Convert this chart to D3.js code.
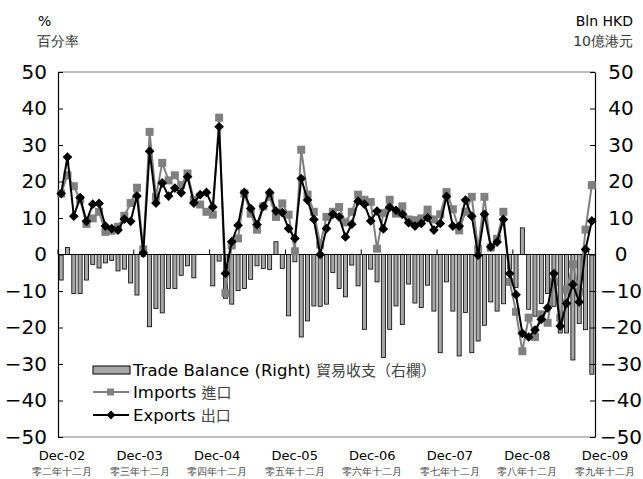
<!DOCTYPE html>
<html><head><meta charset="utf-8">
<script src="https://cdn.jsdelivr.net/npm/d3@7/dist/d3.min.js"></script>
<style>
body{margin:0;background:#fff;}
text{font-family:"DejaVu Sans",Verdana,sans-serif;}
</style></head>
<body><svg id="c" width="643" height="479"></svg>
<script>
// ---- data ----
const startMonth = new Date(2002, 11, 1);
const months = d3.timeMonth.range(startMonth, new Date(2010, 0, 1)); // Dec-02 .. Dec-09 (85)
const yearLabels = ["Dec-02","Dec-03","Dec-04","Dec-05","Dec-06","Dec-07","Dec-08","Dec-09"];
const yearLabelsZh = ["零二年十二月","零三年十二月","零四年十二月","零五年十二月","零六年十二月","零七年十二月","零八年十二月","零九年十二月"];
const yTicks = [50,40,30,20,10,0,-10,-20,-30,-40,-50];

const imports = [16.7,21.7,18.7,15.0,8.4,9.9,11.7,6.2,6.5,7.6,10.6,14.1,
  18.3,1.4,33.6,15.8,25.1,20.3,21.7,19.0,22.2,15.0,13.7,11.7,
  10.9,37.5,-10.5,2.5,4.4,16.7,11.2,6.8,13.2,15.8,10.3,14.0,
  10.9,0.9,28.7,16.4,11.7,2.7,10.3,11.7,13.0,8.8,11.7,16.4,
  15.0,14.4,1.6,11.4,15.0,11.2,13.2,9.6,9.4,9.9,12.3,9.6,
  11.0,17.1,12.4,6.6,11.7,15.8,1.5,15.8,1.9,4.3,11.7,-7.5,
  -15.7,-26.5,-17.3,-22.6,-16.4,-18.7,-7.5,-17.3,-9.6,-2.7,-10.2,6.8,
  19.0];
const exports_ = [16.7,26.7,10.5,15.6,9.1,13.8,14.0,7.8,7.1,6.7,9.7,9.1,
  16.0,0.4,28.3,14.1,19.6,16.0,18.2,16.9,21.3,14.1,16.4,17.0,
  13.0,35.0,-5.2,3.5,8.0,17.0,12.6,8.2,13.2,17.0,11.9,11.5,
  7.1,4.4,20.8,14.9,9.6,0.0,7.1,11.0,10.3,4.8,8.3,14.6,
  13.8,9.2,11.9,7.0,12.9,12.1,11.0,8.7,7.8,8.5,10.1,6.7,
  8.5,15.9,7.8,7.8,14.9,10.5,-0.2,11.0,2.1,3.4,9.6,-5.2,
  -11.0,-21.6,-22.6,-20.7,-17.8,-14.6,-5.2,-19.6,-13.4,-8.2,-13.0,1.4,
  9.2];
const balance = [-7.0,1.9,-10.7,-10.7,-7.0,-2.7,-3.7,-2.3,-1.6,-4.5,-4.0,-7.8,
  -11.1,-0.5,-19.8,-14.8,-16.0,-9.3,-9.3,-5.7,-3.1,-6.4,0,0,
  -8.6,-1.8,-12.0,-13.6,-9.9,-9.3,-6.8,-3.1,-3.8,-4.1,3.5,-3.8,
  -16.8,-2.0,-22.6,-18.2,-14.1,-14.2,-13.6,-4.9,-9.3,-11.6,-2.9,-8.6,
  -20.5,-4.0,-7.5,-28.2,-20.5,-14.1,-19.2,-8.1,-13.3,-14.5,-8.4,-15.5,
  -26.9,-7.5,-15.5,-27.8,-15.9,-26.9,-23.7,-19.4,-13.0,-15.5,-13.5,-4.0,
  -9.0,7.3,-15.0,-16.9,-13.4,-10.7,-14.2,-21.5,-21.5,-28.9,-18.9,-20.6,
  -32.8];

// ---- layout ----
const L = 58, R = 595, T = 72, B = 437;
const svg = d3.select("#c");
const x = d3.scaleBand().domain(months).range([L, R]).paddingInner(0.36).paddingOuter(0.18);
const y = d3.scaleLinear().domain([-50, 50]).range([B, T]);
const cx = d => x(d) + x.bandwidth() / 2;
const labelX = d3.scalePoint().domain(yearLabels).range([62, 605]);

// bars
svg.append("g").selectAll("rect").data(months).join("rect")
  .attr("x", d => x(d))
  .attr("width", x.bandwidth())
  .attr("y", (d, i) => y(Math.max(0, balance[i])))
  .attr("height", (d, i) => Math.abs(y(balance[i]) - y(0)))
  .attr("fill", "#a6a6a6").attr("stroke", "#000").attr("stroke-width", 0.8);

// frame
svg.append("line").attr("x1", L).attr("x2", R).attr("y1", T).attr("y2", T).attr("stroke", "#808080").attr("stroke-width", 1.2);
svg.append("line").attr("x1", L).attr("x2", R).attr("y1", B).attr("y2", B).attr("stroke", "#808080").attr("stroke-width", 1.2);

// axes
const leftAxis = d3.axisLeft(y).tickValues(yTicks).tickSizeInner(-5).tickSizeOuter(0).tickPadding(11);
const gl = svg.append("g").attr("transform", `translate(${L},0)`).call(leftAxis);
const rightAxis = d3.axisRight(y).tickValues(yTicks).tickSizeInner(-5).tickSizeOuter(0).tickPadding(10);
const gr = svg.append("g").attr("transform", `translate(${R},0)`).call(rightAxis);
[gl, gr].forEach(g => {
  g.select(".domain").attr("stroke", "#000").attr("stroke-width", 1.2);
  g.selectAll(".tick line").attr("stroke", "#000");
  g.selectAll(".tick text").attr("font-size", 20).attr("fill", "#000")
    .attr("font-family", "DejaVu Sans, Verdana, sans-serif");
});
gr.selectAll(".tick text").attr("text-anchor", "middle").attr("x", 26);

// zero line + year ticks
svg.append("line").attr("x1", L).attr("x2", R).attr("y1", y(0)).attr("y2", y(0)).attr("stroke", "#000").attr("stroke-width", 1.2);
const yearStarts = months.filter(d => d.getMonth() === 11);
svg.append("g").selectAll("line").data(yearStarts).join("line")
  .attr("x1", d => x(d) - x.step() * x.paddingInner() / 2)
  .attr("x2", d => x(d) - x.step() * x.paddingInner() / 2)
  .attr("y1", y(0)).attr("y2", y(0) - 5).attr("stroke", "#000");

// lines
const lineGen = arr => d3.line().x(d => cx(d)).y((d, i) => y(arr[i]));
svg.append("path").datum(months).attr("d", lineGen(imports))
  .attr("fill", "none").attr("stroke", "#808080").attr("stroke-width", 2);
svg.append("g").selectAll("rect").data(months).join("rect")
  .attr("x", d => cx(d) - 4).attr("y", (d, i) => y(imports[i]) - 4)
  .attr("width", 8).attr("height", 8).attr("fill", "#808080");
svg.append("path").datum(months).attr("d", lineGen(exports_))
  .attr("fill", "none").attr("stroke", "#000").attr("stroke-width", 2);
const diamond = d3.symbol().type(d3.symbolDiamond2).size(60);
svg.append("g").selectAll("path").data(months).join("path")
  .attr("d", diamond)
  .attr("transform", (d, i) => `translate(${cx(d)},${y(exports_[i])})`)
  .attr("fill", "#000");

// x labels
svg.append("g").selectAll("text").data(yearLabels).join("text")
  .attr("x", d => labelX(d)).attr("y", 460).attr("text-anchor", "middle")
  .attr("font-size", 13).text(d => d);
svg.append("g").selectAll("text").data(yearLabelsZh).join("text")
  .attr("x", (d, i) => labelX(yearLabels[i])).attr("y", 475).attr("text-anchor", "middle")
  .attr("font-size", 10).attr("fill", "#444")
  .attr("font-family", "Noto Sans CJK TC, sans-serif").text(d => d);

// unit titles
svg.append("text").attr("x", 38).attr("y", 26).attr("font-size", 14).text("%");
svg.append("text").attr("x", 37).attr("y", 46).attr("font-size", 14).attr("fill", "#333")
  .attr("font-family", "Noto Sans CJK TC, sans-serif").text("百分率");
svg.append("text").attr("x", 633).attr("y", 26).attr("font-size", 14).attr("text-anchor", "end").text("Bln HKD");
svg.append("text").attr("x", 633).attr("y", 46).attr("font-size", 14).attr("text-anchor", "end")
  .attr("fill", "#333").text("10億港元");

// legend
const lg = svg.append("g");
lg.append("rect").attr("x", 93).attr("y", 366).attr("width", 37).attr("height", 8)
  .attr("fill", "#a6a6a6").attr("stroke", "#000").attr("stroke-width", 1);
const t1 = lg.append("text").attr("x", 133).attr("y", 376).attr("font-size", 16.5);
t1.append("tspan").text("Trade Balance (Right) ");
t1.append("tspan").attr("font-size", 15).attr("fill", "#444").attr("font-family", "Noto Sans CJK TC, sans-serif").text("貿易收支（右欄）");
lg.append("line").attr("x1", 93).attr("x2", 129).attr("y1", 392).attr("y2", 392).attr("stroke", "#808080").attr("stroke-width", 2);
lg.append("rect").attr("x", 107).attr("y", 388.5).attr("width", 7).attr("height", 7).attr("fill", "#808080");
const t2 = lg.append("text").attr("x", 133).attr("y", 398).attr("font-size", 16.5);
t2.append("tspan").text("Imports ");
t2.append("tspan").attr("font-size", 15).attr("fill", "#444").attr("font-family", "Noto Sans CJK TC, sans-serif").text("進口");
lg.append("line").attr("x1", 93).attr("x2", 129).attr("y1", 415).attr("y2", 415).attr("stroke", "#000").attr("stroke-width", 2);
lg.append("path").attr("d", d3.symbol().type(d3.symbolDiamond2).size(50)).attr("transform", "translate(111,415)").attr("fill", "#000");
const t3 = lg.append("text").attr("x", 133).attr("y", 421).attr("font-size", 16.5);
t3.append("tspan").text("Exports ");
t3.append("tspan").attr("font-size", 15).attr("fill", "#444").attr("font-family", "Noto Sans CJK TC, sans-serif").text("出口");
</script></body></html>
